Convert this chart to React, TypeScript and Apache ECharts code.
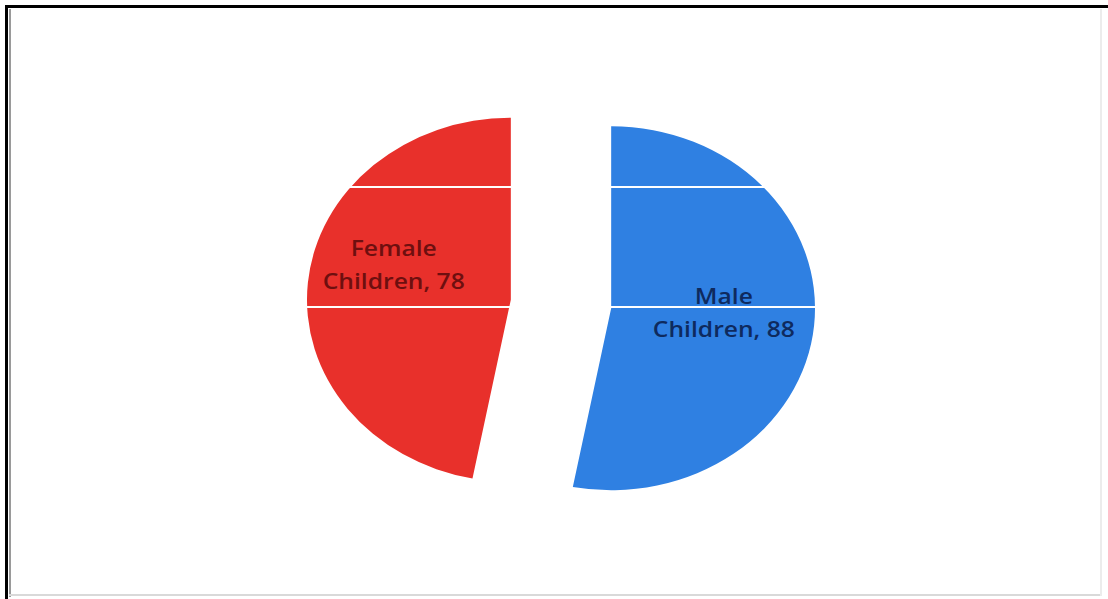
import React, { useEffect, useRef } from "react";
import * as echarts from "echarts";

const categories = ["Male Children", "Female Children"];
const values = [88, 78];
const sliceColors = ["#2F80E2", "#E8302B"];
const labelColors = ["#0E2A5E", "#6E0F0F"];
const gridLineYs = [187, 307];

export default function App() {
  const ref = useRef<HTMLDivElement>(null);
  useEffect(() => {
    if (!ref.current) return;
    const chart = echarts.init(ref.current, undefined, { renderer: "svg" });
    const labelShift: Record<number, [number, number]> = {
      0: [7, -5],
      1: [-11, -27],
    };
    chart.setOption({
      animation: false,
      backgroundColor: "#ffffff",
      series: [
        {
          type: "pie",
          center: [561, 304],
          radius: 182,
          startAngle: 90,
          clockwise: true,
          selectedMode: "multiple",
          selectedOffset: 45,
          emphasis: { disabled: true },
          itemStyle: { borderWidth: 0 },
          label: {
            show: true,
            position: "inner",
            fontFamily: "Open Sans",
            fontSize: 22,
            fontWeight: 600,
            lineHeight: 33,
            align: "center",
            formatter: (p: any) => {
              const parts = String(p.name).split(" ");
              return parts[0] + "\n" + parts.slice(1).join(" ") + ", " + p.value;
            },
          },
          labelLayout: (p: any) => {
            const s = labelShift[p.dataIndex] || [0, 0];
            return { dx: s[0], dy: s[1] };
          },
          labelLine: { show: false },
          data: categories.map((c, i) => ({
            name: c,
            value: values[i],
            selected: true,
            itemStyle: { color: sliceColors[i] },
            label: { color: labelColors[i] },
          })),
        },
      ],
      graphic: gridLineYs.map((y) => ({
        type: "line",
        z: 100,
        shape: { x1: 0, y1: y, x2: 1108, y2: y },
        style: { stroke: "#ffffff", lineWidth: 2 },
      })),
    });
    return () => chart.dispose();
  }, []);

  return (
    <div
      style={{
        position: "fixed",
        left: 0,
        top: 0,
        width: 1108,
        height: 599,
        overflow: "hidden",
        background: "#fff",
      }}
    >
      <div
        ref={ref}
        style={{
          position: "absolute",
          left: 0,
          top: 0,
          width: 1108,
          height: 599,
          transform: "scaleX(1.12)",
          transformOrigin: "561px 0px",
        }}
      />
      <div style={{ position: "absolute", left: 5, top: 5, width: 1103, height: 3, background: "#000" }} />
      <div style={{ position: "absolute", left: 5, top: 5, width: 3, height: 594, background: "#000" }} />
      <div style={{ position: "absolute", left: 9, top: 9, width: 2, height: 588, background: "#9a9a9a" }} />
      <div style={{ position: "absolute", left: 9, top: 594, width: 1093, height: 2, background: "#d9d9d9" }} />
      <div style={{ position: "absolute", left: 1100, top: 9, width: 2, height: 587, background: "#ececec" }} />
    </div>
  );
}
